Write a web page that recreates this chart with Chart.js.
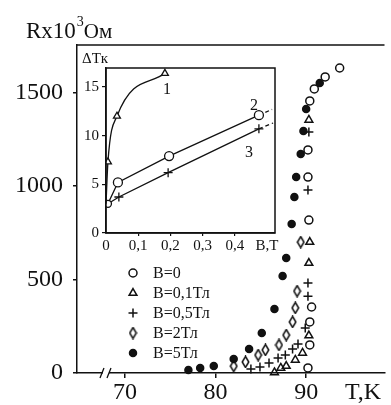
<!DOCTYPE html>
<html>
<head>
<meta charset="utf-8">
<script src="https://cdn.jsdelivr.net/npm/chart.js@4"></script>
<style>
  html, body { margin: 0; padding: 0; background: #fff; }
  #wrap { position: relative; width: 391px; height: 405px; }
  #mainChart { position: absolute; left: 0; top: 0; }
  #insetChart { position: absolute; left: 60px; top: 40px; }
</style>
</head>
<body>
<div id="wrap">
  <canvas id="mainChart" width="391" height="405"></canvas>
  <canvas id="insetChart" width="230" height="215"></canvas>
</div>
<script>
// R(T) at different fields
const fieldLabels = ['B=0', 'B=0,1Тл', 'B=0,5Тл', 'B=2Тл', 'B=5Тл'];

const tB0 = [90.2, 90.4, 90.4, 90.6, 90.3, 90.2, 90.2, 90.4, 90.9, 92.1, 93.7];
const rB0 = [27, 150, 273, 353, 818, 1048, 1193, 1455, 1519, 1583, 1631];

const tB01 = [86.5, 87.2, 87.8, 88.8, 89.6, 90.3, 90.3, 90.4, 90.3];
const rB01 = [3, 27, 37, 70, 107, 200, 588, 700, 1353];

const tB05 = [83.9, 84.9, 85.9, 86.9, 87.7, 88.5, 89.1, 89.9, 90.2, 90.2, 90.2, 90.3];
const rB05 = [21, 32, 53, 80, 96, 128, 155, 241, 410, 481, 979, 1289];

const tB2 = [82.0, 83.3, 84.7, 85.5, 87.0, 87.8, 88.5, 88.8, 89.0, 89.4];
const rB2 = [37, 59, 96, 123, 150, 203, 273, 348, 438, 700];

const tB5 = [77.0, 78.3, 79.8, 82.0, 83.7, 85.1, 86.5, 87.4, 87.8, 88.4, 88.7, 88.9, 89.4, 89.7, 90.0, 91.5];
const rB5 = [16, 27, 37, 75, 128, 214, 342, 519, 615, 797, 941, 1048, 1171, 1294, 1412, 1551];

const tickT = [70, 80, 90];
const tickR = [0, 500, 1000, 1500];

// вставка: ΔTк(B)
const insetB1 = [0, 0.006, 0.034, 0.183];
const insetDT1 = [3.0, 7.3, 12.0, 16.4];
const insetB2 = [0.006, 0.037, 0.196, 0.475, 0.516];
const insetDT2 = [3.0, 5.2, 7.9, 12.1, 12.7];
const insetB3 = [0.006, 0.040, 0.193, 0.475, 0.519];
const insetDT3 = [3.0, 3.7, 6.2, 10.7, 11.3];
const tickB = [0, 0.1, 0.2, 0.3, 0.4, 0.5];
const tickDT = [0, 5, 10, 15];

Chart.defaults.font.family = "'Liberation Serif', 'Times New Roman', serif";
Chart.defaults.color = '#111';

const ink = '#111';
const serif = "'Liberation Serif', 'Times New Roman', serif";

function pts(xs, ys) {
    return xs.map((x, i) => ({ x: x, y: ys[i] }));
}

// узкий ромб
function makeDiamond() {
    const c = document.createElement('canvas');
    c.width = 9; c.height = 13;
    const g = c.getContext('2d');
    g.strokeStyle = ink;
    g.lineWidth = 1.5;
    g.beginPath();
    g.moveTo(4.5, 1); g.lineTo(7.8, 6.5); g.lineTo(4.5, 12); g.lineTo(1.2, 6.5);
    g.closePath();
    g.stroke();
    return c;
}
const diamond = makeDiamond();

const seriesT = [tB0, tB01, tB05, tB2, tB5];
const seriesR = [rB0, rB01, rB05, rB2, rB5];
const styles = [
    { pointStyle: 'circle', pointRadius: 4, pointBackgroundColor: 'rgba(0,0,0,0)' },
    { pointStyle: 'triangle', pointRadius: 4.5, pointBackgroundColor: 'rgba(0,0,0,0)' },
    { pointStyle: 'cross', pointRadius: 4.5, pointBackgroundColor: 'rgba(0,0,0,0)' },
    { pointStyle: diamond, pointRadius: 5, pointBackgroundColor: 'rgba(0,0,0,0)' },
    { pointStyle: 'circle', pointRadius: 3.5, pointBackgroundColor: ink }
];

const mainDatasets = fieldLabels.map((lab, i) => Object.assign({
    label: lab,
    data: pts(seriesT[i], seriesR[i]),
    showLine: false,
    pointBorderColor: ink,
    pointBorderWidth: 1.5,
    clip: false
}, styles[i]));

const mainDecor = {
    id: 'mainDecor',
    afterDraw(chart) {
        const { ctx, chartArea: a, scales: { x } } = chart;
        ctx.save();
        ctx.strokeStyle = ink;
        ctx.lineWidth = 1.5;
        // верхняя линия рамки
        ctx.beginPath();
        ctx.moveTo(a.left, a.top);
        ctx.lineTo(a.right, a.top);
        ctx.stroke();

        // разрыв оси
        const bx = x.getPixelForValue(67.9);
        ctx.fillStyle = '#fff';
        ctx.fillRect(bx - 3, a.bottom - 2, 6, 4);
        ctx.lineWidth = 1.3;
        ctx.beginPath();
        ctx.moveTo(bx - 6, a.bottom + 5); ctx.lineTo(bx - 2, a.bottom - 5);
        ctx.moveTo(bx + 1, a.bottom + 5); ctx.lineTo(bx + 5, a.bottom - 5);
        ctx.stroke();

        // подпись оси Y
        ctx.fillStyle = ink;
        ctx.textBaseline = 'alphabetic';
        ctx.textAlign = 'left';
        ctx.font = '23px ' + serif;
        let px = 26;
        ctx.fillText('Rx10', px, 38);
        px += ctx.measureText('Rx10').width + 1;
        ctx.font = '14px ' + serif;
        ctx.fillText('3', px, 26);
        px += ctx.measureText('3').width;
        ctx.font = '21px ' + serif;
        ctx.fillText('Ом', px, 38);

        // подпись оси X
        ctx.font = '24px ' + serif;
        ctx.textAlign = 'center';
        ctx.textBaseline = 'middle';
        ctx.fillText('T,K', 363, 393);

        // легенда
        const lx = a.left + 56, ly = a.top + 228;
        chart.data.datasets.forEach((ds, i) => {
            const y = ly + i * 20;
            ctx.strokeStyle = ink;
            ctx.fillStyle = ds.pointBackgroundColor;
            ctx.lineWidth = ds.pointBorderWidth;
            Chart.helpers.drawPoint(ctx, {
                pointStyle: ds.pointStyle, radius: ds.pointRadius,
                rotation: 0, borderWidth: ds.pointBorderWidth
            }, lx, y);
            ctx.fillStyle = ink;
            ctx.font = '16px ' + serif;
            ctx.textAlign = 'left';
            ctx.fillText(ds.label, lx + 20, y + 1);
        });
        ctx.restore();
    }
};

new Chart(document.getElementById('mainChart'), {
    type: 'scatter',
    data: { datasets: mainDatasets },
    options: {
        responsive: false,
        animation: false,
        layout: { padding: { top: 45, left: 0, right: 0, bottom: 0 } },
        plugins: { legend: { display: false }, tooltip: { enabled: false } },
        scales: {
            x: {
                type: 'linear', min: 64.7, max: 98.65,
                afterBuildTicks: s => { s.ticks = tickT.map(v => ({ value: v })); },
                afterFit: s => { s.height = 32; },
                ticks: { font: { size: 24 }, color: ink, padding: 0, maxRotation: 0, callback: v => String(v) },
                grid: { drawOnChartArea: false, tickLength: 5, color: ink, lineWidth: 1.5 },
                border: { color: ink, width: 1.5 }
            },
            y: {
                type: 'linear', min: 0, max: 1754,
                afterBuildTicks: s => { s.ticks = tickR.map(v => ({ value: v })); },
                afterFit: s => { s.width = 77; },
                ticks: { font: { size: 24 }, color: ink, padding: 10, callback: v => String(v) },
                grid: { drawOnChartArea: false, tickLength: 4, color: ink, lineWidth: 1.5 },
                border: { color: ink, width: 1.5 }
            }
        }
    },
    plugins: [mainDecor]
});

// ---------- вставка ----------
const lastDash = ctx => (ctx.p1DataIndex === ctx.chart.data.datasets[ctx.datasetIndex].data.length - 1 ? [4, 3] : undefined);

const insetDecor = {
    id: 'insetDecor',
    afterDraw(chart) {
        const { ctx, chartArea: a, scales: { x, y } } = chart;
        ctx.save();
        ctx.strokeStyle = ink;
        ctx.lineWidth = 1.5;
        ctx.strokeRect(a.left, a.top, a.right - a.left, a.bottom - a.top);
        ctx.fillStyle = ink;
        ctx.font = '15px ' + serif;
        ctx.textAlign = 'left';
        ctx.textBaseline = 'middle';
        ctx.fillText('ΔTк', 22, 19);

        // номера кривых у последних маркеров
        const ds = chart.data.datasets;
        const p1 = ds[0].data[3], p2 = ds[1].data[3], p3 = ds[2].data[3];
        ctx.font = '16px ' + serif;
        ctx.textAlign = 'center';
        ctx.fillText('1', x.getPixelForValue(p1.x) + 2, y.getPixelForValue(p1.y) + 16);
        ctx.fillText('2', x.getPixelForValue(p2.x) - 5, y.getPixelForValue(p2.y) - 9);
        ctx.fillText('3', x.getPixelForValue(p3.x) - 10, y.getPixelForValue(p3.y) + 24);
        ctx.restore();
    }
};

new Chart(document.getElementById('insetChart'), {
    type: 'scatter',
    data: {
        datasets: [
            {
                data: pts(insetB1, insetDT1), showLine: true, borderColor: ink, borderWidth: 1.3,
                cubicInterpolationMode: 'monotone',
                pointStyle: 'triangle', pointRadius: [0, 4, 4, 4],
                pointBorderColor: ink, pointBackgroundColor: '#fff', pointBorderWidth: 1.3
            },
            {
                data: pts(insetB2, insetDT2), showLine: true, borderColor: ink, borderWidth: 1.3,
                segment: { borderDash: lastDash },
                pointStyle: 'circle', pointRadius: [3.5, 4.5, 4.5, 4.5, 0],
                pointBorderColor: ink, pointBackgroundColor: '#fff', pointBorderWidth: 1.3
            },
            {
                data: pts(insetB3, insetDT3), showLine: true, borderColor: ink, borderWidth: 1.3,
                segment: { borderDash: lastDash },
                pointStyle: 'cross', pointRadius: [0, 4.5, 4.5, 4.5, 0],
                pointBorderColor: ink, pointBackgroundColor: '#fff', pointBorderWidth: 1.3
            }
        ]
    },
    options: {
        responsive: false,
        animation: false,
        layout: { padding: { top: 28, left: 0, right: 15, bottom: 0 } },
        plugins: { legend: { display: false }, tooltip: { enabled: false } },
        scales: {
            x: {
                type: 'linear', min: 0, max: 0.525,
                afterBuildTicks: s => { s.ticks = tickB.map(v => ({ value: v })); },
                afterFit: s => { s.height = 22; },
                ticks: {
                    font: { size: 15 }, color: ink, padding: 1, maxRotation: 0, autoSkip: false,
                    callback: v => (v === 0.5 ? 'B,T' : String(v).replace('.', ','))
                },
                grid: {
                    drawOnChartArea: false, tickLength: 3, lineWidth: 1.2,
                    tickColor: c => (c.tick && (c.tick.value === 0.5 || c.tick.value === 0) ? 'rgba(0,0,0,0)' : ink)
                },
                border: { color: ink, width: 1.5 }
            },
            y: {
                type: 'linear', min: 0, max: 16.95,
                afterBuildTicks: s => { s.ticks = tickDT.map(v => ({ value: v })); },
                afterFit: s => { s.width = 46; },
                ticks: { font: { size: 15 }, color: ink, padding: 3, callback: v => String(v) },
                grid: { drawOnChartArea: false, tickLength: 4, color: ink, lineWidth: 1.2 },
                border: { color: ink, width: 1.5 }
            }
        }
    },
    plugins: [insetDecor]
});
</script>
</body>
</html>
